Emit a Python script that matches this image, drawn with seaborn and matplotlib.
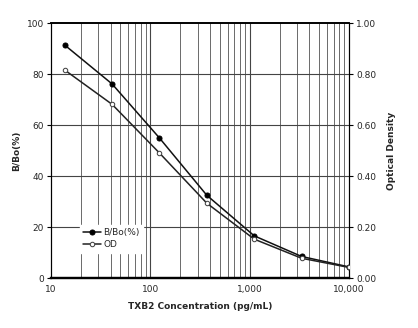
import matplotlib
matplotlib.use("Agg")
import matplotlib.pyplot as plt
import seaborn as sns
import numpy as np
import pandas as pd
from matplotlib.ticker import FixedLocator, NullFormatter

sns.set_theme(style="white")
plt.rcParams['font.family'] = ['DejaVu Sans']

conc = [13.7, 41.2, 123.5, 370.4, 1111, 3333, 10000]
bbo = [91.5, 76.2, 55.0, 32.5, 16.6, 8.5, 4.4]
od = [0.817, 0.682, 0.491, 0.294, 0.153, 0.078, 0.042]
xticks = [10, 100, 1000, 10000]
xticklabels = ["10", "100", "1,000", "10,000"]
yticks = [0, 20, 40, 60, 80, 100]
y2ticks = [0.0, 0.2, 0.4, 0.6, 0.8, 1.0]

df = pd.DataFrame({"conc": conc, "bbo": bbo, "od": od})

fig = plt.figure(figsize=(4.18, 3.28), dpi=100)
ax = fig.add_axes([0.122, 0.152, 0.713, 0.777])
ax2 = ax.twinx()

ax.set_xscale("log")
ax.set_xlim(10, 10000)
ax.set_ylim(0, 100)
ax2.set_ylim(0, 1.0)

# grid
minors = [m * 10 ** e for e in range(1, 4) for m in range(2, 10)]
for v in minors:
    ax.axvline(v, color="#6a6a6a", lw=0.7, zorder=0)
for v in xticks[1:-1]:
    ax.axvline(v, color="#444444", lw=0.8, zorder=0)
for v in yticks[1:-1]:
    ax.axhline(v, color="#444444", lw=0.8, zorder=0)

sns.lineplot(data=df, x="conc", y="bbo", ax=ax, color="#111111", lw=1.1,
             marker="o", markersize=3.6, markerfacecolor="black",
             markeredgecolor="black", label="B/Bo(%)", legend=False, zorder=3)
sns.lineplot(data=df, x="conc", y="od", ax=ax2, color="#222222", lw=1.1,
             marker="o", markersize=3.2, markerfacecolor="white",
             markeredgecolor="#444444", label="OD", legend=False, zorder=3)

ax.xaxis.set_major_locator(FixedLocator(xticks))
ax.xaxis.set_minor_locator(FixedLocator(minors))
ax.xaxis.set_minor_formatter(NullFormatter())
ax.set_xticklabels(xticklabels)
ax.set_yticks(yticks)
ax.set_yticklabels([str(v) for v in yticks])
ax2.set_yticks(y2ticks)
ax2.set_yticklabels([f"{v:.2f}" for v in y2ticks])

for a in (ax, ax2):
    a.tick_params(axis="both", which="major", labelsize=6.5, length=3,
                  width=0.8, color="black", pad=2, direction="out")
    for s in a.spines.values():
        s.set_color("black")
        s.set_linewidth(0.8)
ax.tick_params(axis="x", which="minor", length=0)
ax.tick_params(axis="x", which="major", length=0, pad=5)
ax.spines["bottom"].set_linewidth(1.6)
ax2.spines["bottom"].set_linewidth(1.6)
ax.spines["top"].set_linewidth(1.2)
ax2.spines["top"].set_linewidth(1.2)

ax.set_xlabel("TXB2 Concentration (pg/mL)", fontsize=6.5, fontweight="bold", labelpad=6)
ax.set_ylabel("B/Bo(%)", fontsize=6.5, fontweight="bold", labelpad=4)
ax2.set_ylabel("Optical Density", fontsize=6.5, fontweight="bold", labelpad=8)

h1, l1 = ax.get_legend_handles_labels()
h2, l2 = ax2.get_legend_handles_labels()
leg = ax2.legend(h1 + h2, l1 + l2, loc="lower left", bbox_to_anchor=(0.097, 0.10),
                 fontsize=6.5, frameon=True, fancybox=False, framealpha=1,
                 edgecolor="white", handlelength=2.0, handletextpad=0.25,
                 borderpad=0.35, labelspacing=0.35, borderaxespad=0)
leg.set_zorder(5)

fig.savefig("out.png", dpi=100)
